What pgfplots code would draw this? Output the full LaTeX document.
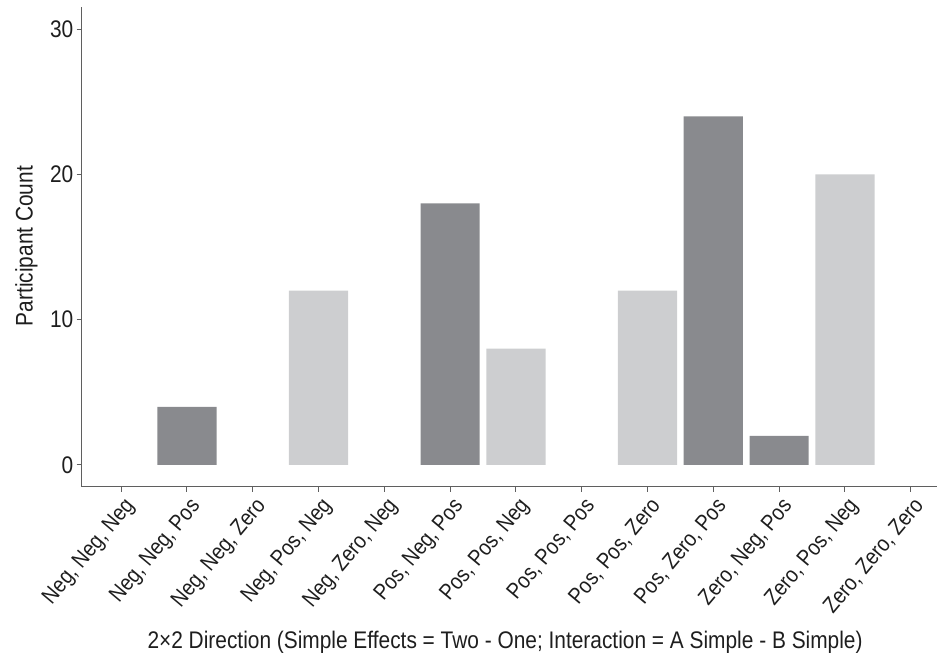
\documentclass[border=0pt]{standalone}
\usepackage{fontspec}
\setmainfont{Liberation Sans}[FakeStretch=0.87]
\usepackage{pgfplots}
\pgfplotsset{compat=1.18}
\definecolor{darkbar}{RGB}{137,138,142}
\definecolor{lightbar}{RGB}{205,206,208}
\definecolor{axisgray}{RGB}{95,95,95}
\definecolor{txt}{RGB}{30,30,30}
\begin{document}
\begin{tikzpicture}
\useasboundingbox (0,0) rectangle (468.5pt,326.5pt);
\begin{axis}[
  at={(40.85pt,83.15pt)}, anchor=south west,
  scale only axis, width=427.65pt, height=239.7pt,
  xmin=-0.6, xmax=12.4, ymin=-1.5, ymax=31.5,
  axis x line=bottom, axis y line=left,
  axis line style={-, axisgray, line width=0.6pt},
  tick style={axisgray, line width=0.5pt},
  tick align=outside, major tick length=2.5pt,
  xtick={0,...,12}, ytick={0,10,20,30},
  xticklabels={{Neg, Neg, Neg},{Neg, Neg, Pos},{Neg, Neg, Zero},{Neg, Pos, Neg},{Neg, Zero, Neg},{Pos, Neg, Pos},{Pos, Pos, Neg},{Pos, Pos, Pos},{Pos, Pos, Zero},{Pos, Zero, Pos},{Zero, Neg, Pos},{Zero, Pos, Neg},{Zero, Zero, Zero}},
  /pgf/number format/assume math mode=true,
  font=\fontsize{12}{14}\selectfont,
  every tick label/.append style={text=txt},
  x tick label style={font=\fontsize{11.2}{13}\selectfont, rotate=50, anchor=north east, inner sep=1pt, yshift=-1pt},
  y tick label style={inner sep=1.5pt},
  xlabel={2×2 Direction (Simple Effects = Two - One; Interaction = A Simple - B Simple)},
  ylabel={Participant Count},
  xlabel style={at={(axis description cs:0.495,-0.338)}, anchor=base, text=txt},
  ylabel style={at={(axis description cs:-0.0573,0.502)}, anchor=base, text=txt},
  ybar, bar width=0.9, bar shift=0pt,
  clip=false,
]
\addplot[fill=darkbar, draw=none] coordinates {(1,4) (5,18) (9,24) (10,2)};
\addplot[fill=lightbar, draw=none] coordinates {(3,12) (6,8) (8,12) (11,20)};
\end{axis}
\end{tikzpicture}
\end{document}
